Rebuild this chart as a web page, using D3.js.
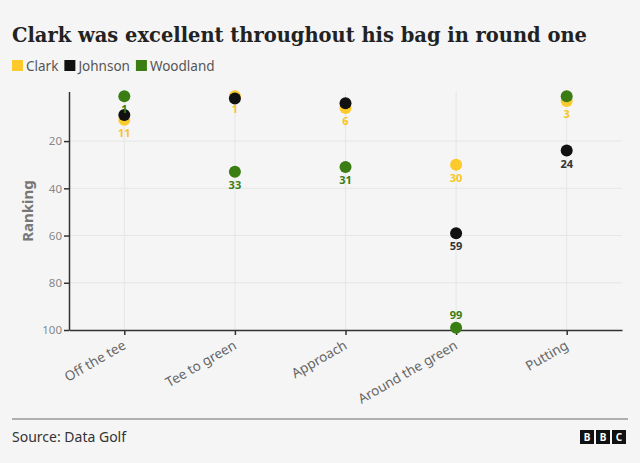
<!DOCTYPE html>
<html><head><meta charset="utf-8">
<script src="https://cdn.jsdelivr.net/npm/d3@7"></script>
<style>
html,body{margin:0;padding:0;background:#f5f5f5;}
svg{display:block;font-family:"Noto Sans",sans-serif;}
</style></head><body>
<svg id="c" width="640" height="463"></svg>
<script>
const categories = ["Off the tee","Tee to green","Approach","Around the green","Putting"];
const seriesNames = ["Clark","Johnson","Woodland"];
const clark = [11, 1, 6, 30, 3];
const johnson = [9, 2, 4, 59, 24];
const woodland = [1, 33, 31, 99, 1];
// which value labels are shown in the original
const clarkLabels = [true, true, true, true, true];
const johnsonLabels = [false, false, false, true, true];
const woodlandLabels = [true, true, true, true, false];
const yTicks = [20, 40, 60, 80, 100];
const colors = ["#fcca2b", "#111111", "#3a7d13"];
const labelColors = ["#f8c620", "#333333", "#3a7d13"];

const svg = d3.select("#c");
svg.append("rect").attr("width",640).attr("height",463).attr("fill","#f5f5f5");

svg.append("text").attr("x",12).attr("y",42)
  .attr("font-family","'DejaVu Serif',serif").attr("font-weight","bold")
  .attr("font-size",20).attr("fill","#222")
  .attr("textLength",575).attr("lengthAdjust","spacingAndGlyphs")
  .text("Clark was excellent throughout his bag in round one");

// legend
const leg = svg.append("g");
let lx = 12;
seriesNames.forEach((n,i)=>{
  leg.append("rect").attr("x",lx).attr("y",60).attr("width",11).attr("height",11).attr("fill",colors[i]);
  const t = leg.append("text").attr("x",lx+14).attr("y",71).attr("font-size",13.5).attr("fill","#555").text(n);
  lx += 14 + t.node().getComputedTextLength() + 6;
});

const x = d3.scalePoint().domain(categories).range([69,622]).padding(0.5);
const y = d3.scaleLinear().domain([-1,100]).range([91.5,330]);

// gridlines
svg.append("g").selectAll("line").data(yTicks.slice(0,-1)).join("line")
  .attr("x1",69).attr("x2",622).attr("y1",d=>y(d)).attr("y2",d=>y(d))
  .attr("stroke","#e6e6e6").attr("stroke-width",1);
svg.append("g").selectAll("line").data(categories).join("line")
  .attr("x1",d=>x(d)).attr("x2",d=>x(d)).attr("y1",y(-1)).attr("y2",y(100))
  .attr("stroke","#e6e6e6").attr("stroke-width",1);

// y axis
const ya = svg.append("g").attr("transform","translate(69,0)")
  .call(d3.axisLeft(y).tickValues(yTicks).tickSize(5).tickSizeOuter(0));
ya.select(".domain").attr("stroke","#333").attr("stroke-width",1.5);
ya.selectAll(".tick line").attr("stroke","#333").attr("stroke-width",1.5);
ya.selectAll(".tick text").attr("font-size",11.5).attr("fill","#888").attr("font-family","'Noto Sans',sans-serif").attr("x",-7);

// x axis
const xa = svg.append("g").attr("transform",`translate(0,${y(100)})`)
  .call(d3.axisBottom(x).tickSize(5).tickSizeOuter(0));
xa.select(".domain").attr("stroke","#333").attr("stroke-width",1.5);
xa.selectAll(".tick line").attr("stroke","#333").attr("stroke-width",1.5);
xa.selectAll(".tick text").attr("font-size",13.5).attr("fill","#666")
  .attr("font-family","'Noto Sans',sans-serif")
  .attr("text-anchor","end").attr("dy","0")
  .attr("transform","translate(2,18) rotate(-30)").attr("y",0);

svg.append("text").attr("transform","translate(33,211) rotate(-90)")
  .attr("text-anchor","middle").attr("font-size",15).attr("font-weight","bold")
  .attr("fill","#777").text("Ranking");

const series = [clark, johnson, woodland];
const labels = [clarkLabels, johnsonLabels, woodlandLabels];
series.forEach((vals,si)=>{
  const g = svg.append("g");
  g.selectAll("circle").data(vals).join("circle")
    .attr("cx",(d,i)=>x(categories[i])).attr("cy",d=>y(d)).attr("r",6)
    .attr("fill",colors[si]);
});
series.forEach((vals,si)=>{
  const g = svg.append("g");
  g.selectAll("text").data(vals.map((v,i)=>({v,i})).filter(d=>labels[si][d.i])).join("text")
    .attr("x",d=>x(categories[d.i]))
    .attr("y",d=> d.v>90 ? y(d.v)-9 : y(d.v)+17)
    .attr("text-anchor","middle").attr("font-size",11).attr("font-weight","bold")
    .attr("fill",labelColors[si]).text(d=>d.v);
});

// footer
svg.append("line").attr("x1",12).attr("x2",628).attr("y1",419).attr("y2",419).attr("stroke","#999").attr("stroke-width",1.5);
svg.append("text").attr("x",12).attr("y",442).attr("font-size",14).attr("fill","#333").text("Source: Data Golf");
["B","B","C"].forEach((l,i)=>{
  const bx = 580 + i*16;
  svg.append("rect").attr("x",bx).attr("y",430).attr("width",14).attr("height",14).attr("fill","#111");
  svg.append("text").attr("x",bx+7).attr("y",441).attr("text-anchor","middle").attr("font-size",10).attr("font-weight","bold").attr("fill","#fff").text(l);
});
</script></body></html>
